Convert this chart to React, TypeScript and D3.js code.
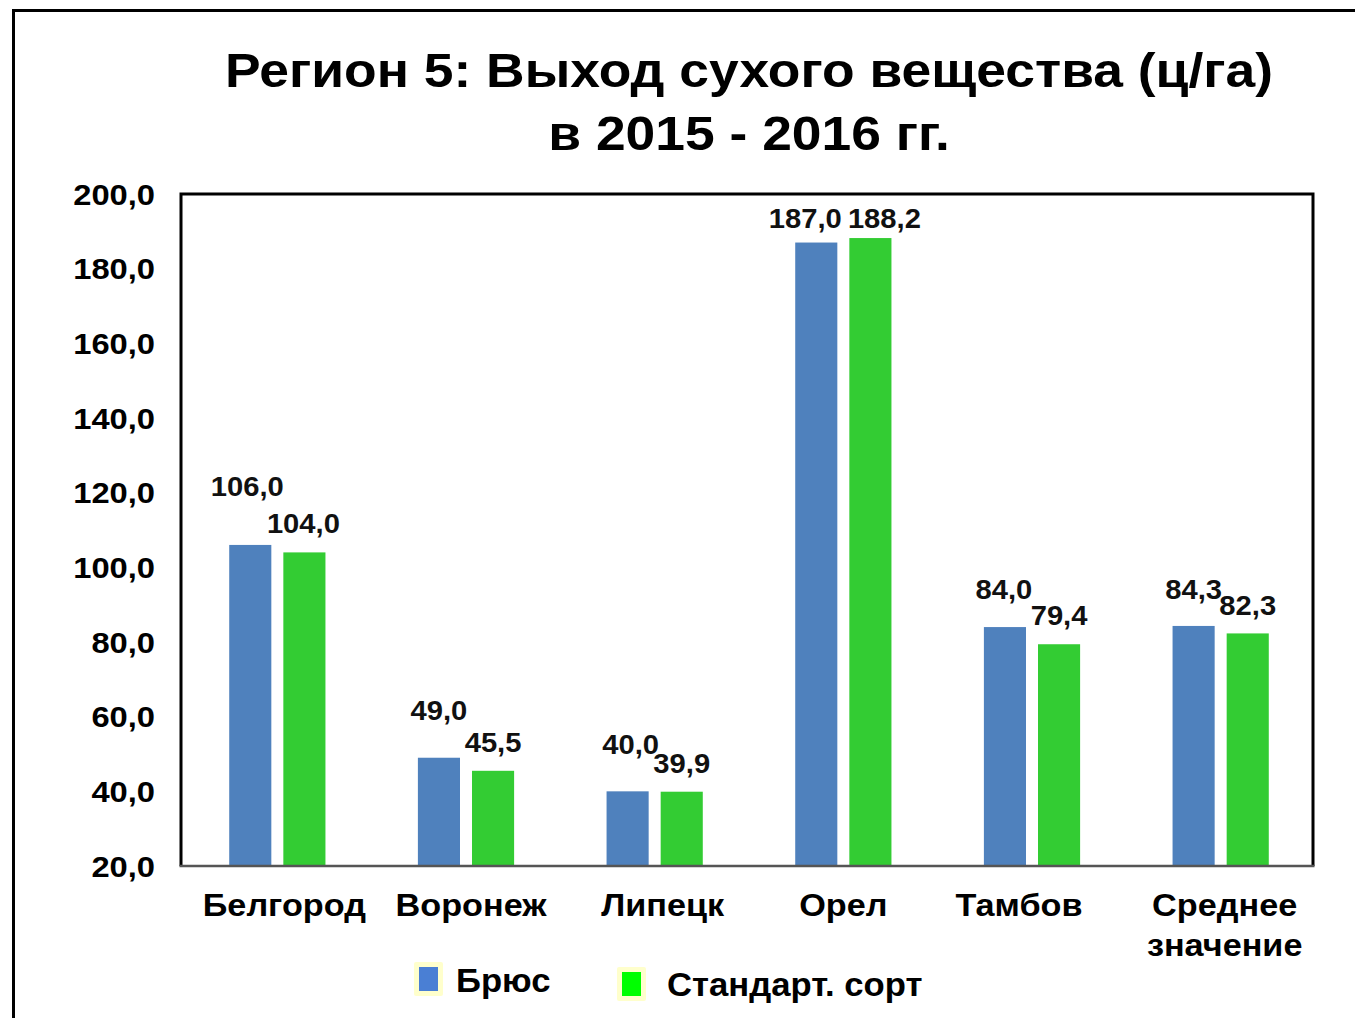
import React from "react";
import * as d3 from "d3";

const categories = ["Белгород", "Воронеж", "Липецк", "Орел", "Тамбов", "Среднее\nзначение"];
const seriesNames = ["Брюс", "Стандарт. сорт"];
const brusValues = [106.0, 49.0, 40.0, 187.0, 84.0, 84.3];
const standardValues = [104.0, 45.5, 39.9, 188.2, 79.4, 82.3];
const yTicks = [20, 40, 60, 80, 100, 120, 140, 160, 180, 200];
const titleLines = ["Регион 5: Выход сухого вещества (ц/га)", "в 2015 - 2016 гг."];

// manual label nudges (dx, dy from bar top centre), as placed in the original
const brusLabelNudge = [[-3, -59], [0, -47], [3, -47], [-11, -24], [-1, -38], [0, -37]];
const standardLabelNudge = [[-1, -29], [0, -29], [0, -28], [14, -20], [0, -29], [0, -28]];
const categoryLabelNudge = [7, 5, 8, 0, -13, 4];

const W = 1355;
const H = 1018;
const plot = { left: 181, top: 194, right: 1313, bottom: 866 };
const FONT = "'Liberation Sans', Arial, sans-serif";
const barColors = ["#4F81BD", "#33CC33"];
const legendColors = ["#4A7FD4", "#00FF00"];

const fmt = (v: number) => v.toFixed(1).replace(".", ",");

function SText(props: {
  x: number;
  y: number;
  sx: number;
  size: number;
  anchor?: string;
  dy?: string;
  fill?: string;
  children: React.ReactNode;
}) {
  const { x, y, sx, size, anchor = "start", dy, fill = "#000", children } = props;
  return (
    <text
      transform={`translate(${x},${y}) scale(${sx},1)`}
      dy={dy}
      textAnchor={anchor}
      fontWeight="bold"
      fontSize={size}
      fill={fill}
    >
      {children}
    </text>
  );
}

export default function App() {
  const x0 = d3
    .scaleBand<string>()
    .domain(categories)
    .range([plot.left + 2, plot.right + 2])
    .paddingInner(0.49)
    .paddingOuter(0.245);
  const x1 = d3
    .scaleBand<string>()
    .domain(seriesNames)
    .range([0, x0.bandwidth()])
    .paddingInner(0.222)
    .paddingOuter(0);
  const y = d3.scaleLinear().domain([20, 200]).range([plot.bottom, plot.top]);

  const series = [brusValues, standardValues];
  const nudges = [brusLabelNudge, standardLabelNudge];

  return (
    <svg
      width={W}
      height={H}
      style={{ position: "absolute", left: 0, top: 0, background: "#fff" }}
      fontFamily={FONT}
    >
      <rect x={0} y={0} width={W} height={H} fill="#fff" />
      {/* outer frame */}
      <rect x={13.5} y={10.5} width={W + 50} height={H + 50} fill="none" stroke="#000" strokeWidth={3} />

      {/* title */}
      {titleLines.map((t, i) => (
        <SText key={i} x={749} y={87 + i * 63} sx={1.09} size={49} anchor="middle">
          {t}
        </SText>
      ))}

      {/* bars */}
      {categories.map((c, ci) =>
        seriesNames.map((s, si) => {
          const v = series[si][ci];
          const bx = (x0(c) ?? 0) + (x1(s) ?? 0);
          const bw = x1.bandwidth();
          return (
            <rect
              key={c + s}
              x={bx}
              y={y(v)}
              width={bw}
              height={y(20) - y(v)}
              fill={barColors[si]}
            />
          );
        })
      )}

      {/* plot frame */}
      <path
        d={`M${plot.left},${plot.bottom} V${plot.top} H${plot.right} V${plot.bottom}`}
        fill="none"
        stroke="#000"
        strokeWidth={3}
      />
      <line x1={plot.left - 1.5} x2={plot.right + 1.5} y1={plot.bottom} y2={plot.bottom} stroke="#555" strokeWidth={2.5} />

      {/* y ticks */}
      {yTicks.map((t) => (
        <SText key={t} x={155} y={y(t)} dy="0.36em" sx={1.09} size={30} anchor="end">
          {fmt(t)}
        </SText>
      ))}

      {/* data labels */}
      {categories.map((c, ci) =>
        seriesNames.map((s, si) => {
          const v = series[si][ci];
          const cx = (x0(c) ?? 0) + (x1(s) ?? 0) + x1.bandwidth() / 2;
          const [dx, dy] = nudges[si][ci];
          return (
            <SText
              key={"l" + c + s}
              x={cx + dx}
              y={y(v) + dy}
              dy="0.36em"
              sx={1.08}
              size={27}
              anchor="middle"
              fill="#111"
            >
              {fmt(v)}
            </SText>
          );
        })
      )}

      {/* category labels */}
      {categories.map((c, ci) => {
        const cx = (x0(c) ?? 0) + x0.bandwidth() / 2 + categoryLabelNudge[ci];
        const lines = c.split("\n");
        return (
          <SText key={"c" + c} x={cx} y={916} sx={1.07} size={32} anchor="middle">
            {lines.map((ln, i) => (
              <tspan key={i} x={0} dy={i === 0 ? 0 : 40}>
                {ln}
              </tspan>
            ))}
          </SText>
        );
      })}

      {/* legend */}
      {[
        { sx: 414, sy: 962, tx: 456, ty: 992 },
        { sx: 617, sy: 967, tx: 667, ty: 996 },
      ].map((p, i) => (
        <g key={"lg" + i}>
          <rect x={p.sx} y={p.sy} width={29} height={34} fill="#FFFFCC" rx={2} />
          <rect x={p.sx + 5} y={p.sy + 5} width={19} height={24} fill={legendColors[i]} />
          <SText x={p.tx} y={p.ty} sx={1.05} size={33}>
            {seriesNames[i]}
          </SText>
        </g>
      ))}
    </svg>
  );
}
